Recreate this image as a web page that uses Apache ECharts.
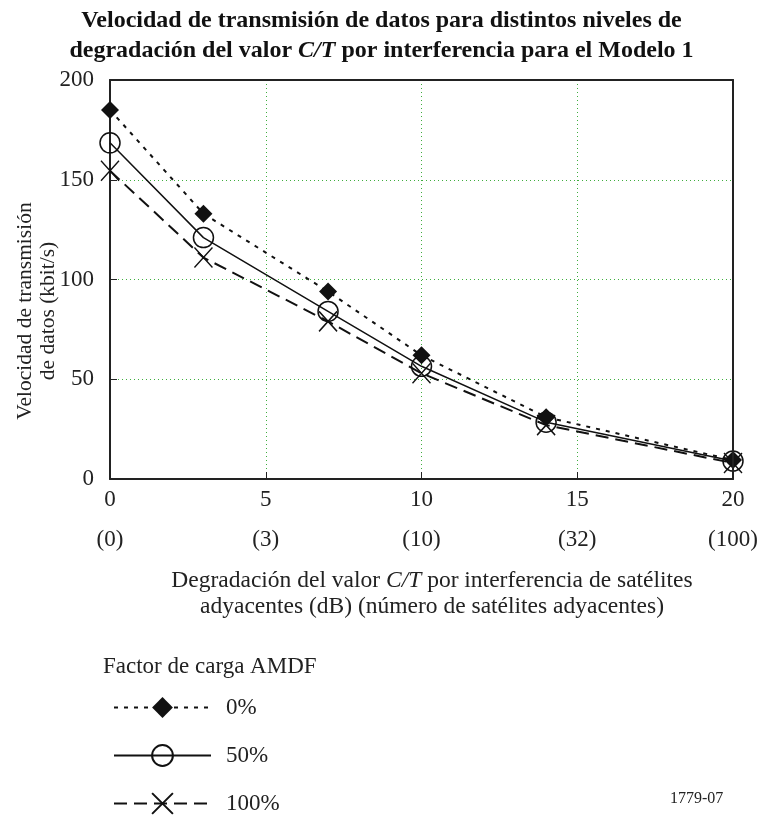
<!DOCTYPE html>
<html>
<head>
<meta charset="utf-8">
<script src="https://cdn.jsdelivr.net/npm/echarts@6/dist/echarts.min.js"></script>
<style>html,body{margin:0;padding:0;background:#fff}#c{width:763px;height:820px}</style>
</head>
<body>
<div id="c"></div>
<script>
const xValues = [0, 3, 7, 10, 14, 20];
const load0 = [185, 133, 94, 62, 31, 9.5];
const load50 = [168.5, 121, 84, 56.5, 28.5, 9];
const load100 = [154.5, 111, 79, 53, 27, 8];
const xTicks = [0, 5, 10, 15, 20];
const satTicks = ['(0)', '(3)', '(10)', '(32)', '(100)'];
const seriesNames = ['0%', '50%', '100%'];

const FF = '"Liberation Serif", "DejaVu Serif", serif';
const pairs = v => xValues.map((x, i) => [x, v[i]]);
const gridLine = {show: true, lineStyle: {color: '#3fae3f', type: [1, 3], width: 1}};

const chart = echarts.init(document.getElementById('c'));
chart.setOption({
  animation: false,
  backgroundColor: '#fff',
  title: {
    left: 'center', top: 1,
    text: '{b|Velocidad de transmisión de datos para distintos niveles de}\n{b|degradación del valor }{i|C/T}{b| por interferencia para el Modelo 1}',
    textStyle: {
      rich: {
        b: {fontFamily: FF, fontWeight: 'bold', fontSize: 24, lineHeight: 30, color: '#111'},
        i: {fontFamily: FF, fontWeight: 'bold', fontStyle: 'italic', fontSize: 24, lineHeight: 30, color: '#111'}
      }
    }
  },
  grid: {left: 110, right: 30, top: 80, bottom: 341},
  xAxis: [{
    type: 'value', min: 0, max: 20, interval: 5,
    axisLine: {lineStyle: {color: '#222', width: 2}},
    axisTick: {inside: true, length: 7, lineStyle: {color: '#222'}},
    splitLine: gridLine,
    axisLabel: {
      margin: 1, lineHeight: 40, fontFamily: FF, fontSize: 23, color: '#222',
      formatter: v => { const i = xTicks.indexOf(v); return v + '\n' + (i >= 0 ? satTicks[i] : ''); }
    }
  }, {
    type: 'value', position: 'top', min: 0, max: 20, interval: 5, z: 5,
    axisLine: {show: true, onZero: false, lineStyle: {color: '#222', width: 2}},
    axisTick: {show: false}, axisLabel: {show: false}, splitLine: {show: false}
  }],
  yAxis: [{
    type: 'value', min: 0, max: 200, interval: 50,
    axisLine: {show: true, lineStyle: {color: '#222', width: 2}},
    axisTick: {show: true, inside: true, length: 7, lineStyle: {color: '#222'}},
    splitLine: gridLine,
    axisLabel: {margin: 16, fontFamily: FF, fontSize: 23, color: '#222'}
  }, {
    type: 'value', position: 'right', min: 0, max: 200, interval: 50, z: 5,
    axisLine: {show: true, onZero: false, lineStyle: {color: '#222', width: 2}},
    axisTick: {show: false}, axisLabel: {show: false}, splitLine: {show: false}
  }],
  legend: {
    orient: 'vertical', left: 108, top: 691,
    itemWidth: 97, itemHeight: 26, itemGap: 25,
    data: seriesNames,
    textStyle: {fontFamily: FF, fontSize: 23, color: '#222', padding: [0, 0, 0, 10]}
  },
  graphic: [
    {type: 'text', left: 103, top: 655, style: {text: 'Factor de carga AMDF', font: '23px ' + FF, fill: '#222'}},
    {type: 'text', left: 670, top: 791, style: {text: '1779-07', font: '16px ' + FF, fill: '#222'}},
    {type: 'text', x: 432, y: 594, style: {
      text: '{n|Degradación del valor }{i|C/T}{n| por interferencia de satélites}\n{n|adyacentes (dB) (número de satélites adyacentes)}',
      align: 'center', verticalAlign: 'middle',
      rich: {
        n: {fontFamily: FF, fontSize: 23.5, lineHeight: 26, fill: '#222'},
        i: {fontFamily: FF, fontStyle: 'italic', fontSize: 23.5, lineHeight: 26, fill: '#222'}
      }
    }},
    {type: 'text', x: 37, y: 311, rotation: Math.PI / 2, style: {
      text: 'Velocidad de transmisión\nde datos (kbit/s)', align: 'center', verticalAlign: 'middle',
      font: '21.5px ' + FF, lineHeight: 23, fill: '#222'
    }}
  ],
  series: [
    {
      name: '100%', type: 'line', data: pairs(load100),
      symbol: 'path://M0,0L9,10M9,0L0,10', symbolSize: [18, 20],
      itemStyle: {color: '#111', borderColor: '#111', borderWidth: 1.5},
      lineStyle: {color: '#111', width: 2, type: [13, 7]}, z: 2
    },
    {
      name: '50%', type: 'line', data: pairs(load50),
      symbol: 'circle', symbolSize: 20,
      itemStyle: {color: 'rgba(0,0,0,0)', borderColor: '#111', borderWidth: 1.5},
      lineStyle: {color: '#111', width: 1.5, type: 'solid'}, z: 3
    },
    {
      name: '0%', type: 'line', data: pairs(load0),
      symbol: 'diamond', symbolSize: [18, 18],
      itemStyle: {color: '#111', borderColor: '#111', borderWidth: 0},
      lineStyle: {color: '#111', width: 2, type: [4, 6]}, z: 4
    }
  ]
});
</script>
</body>
</html>
